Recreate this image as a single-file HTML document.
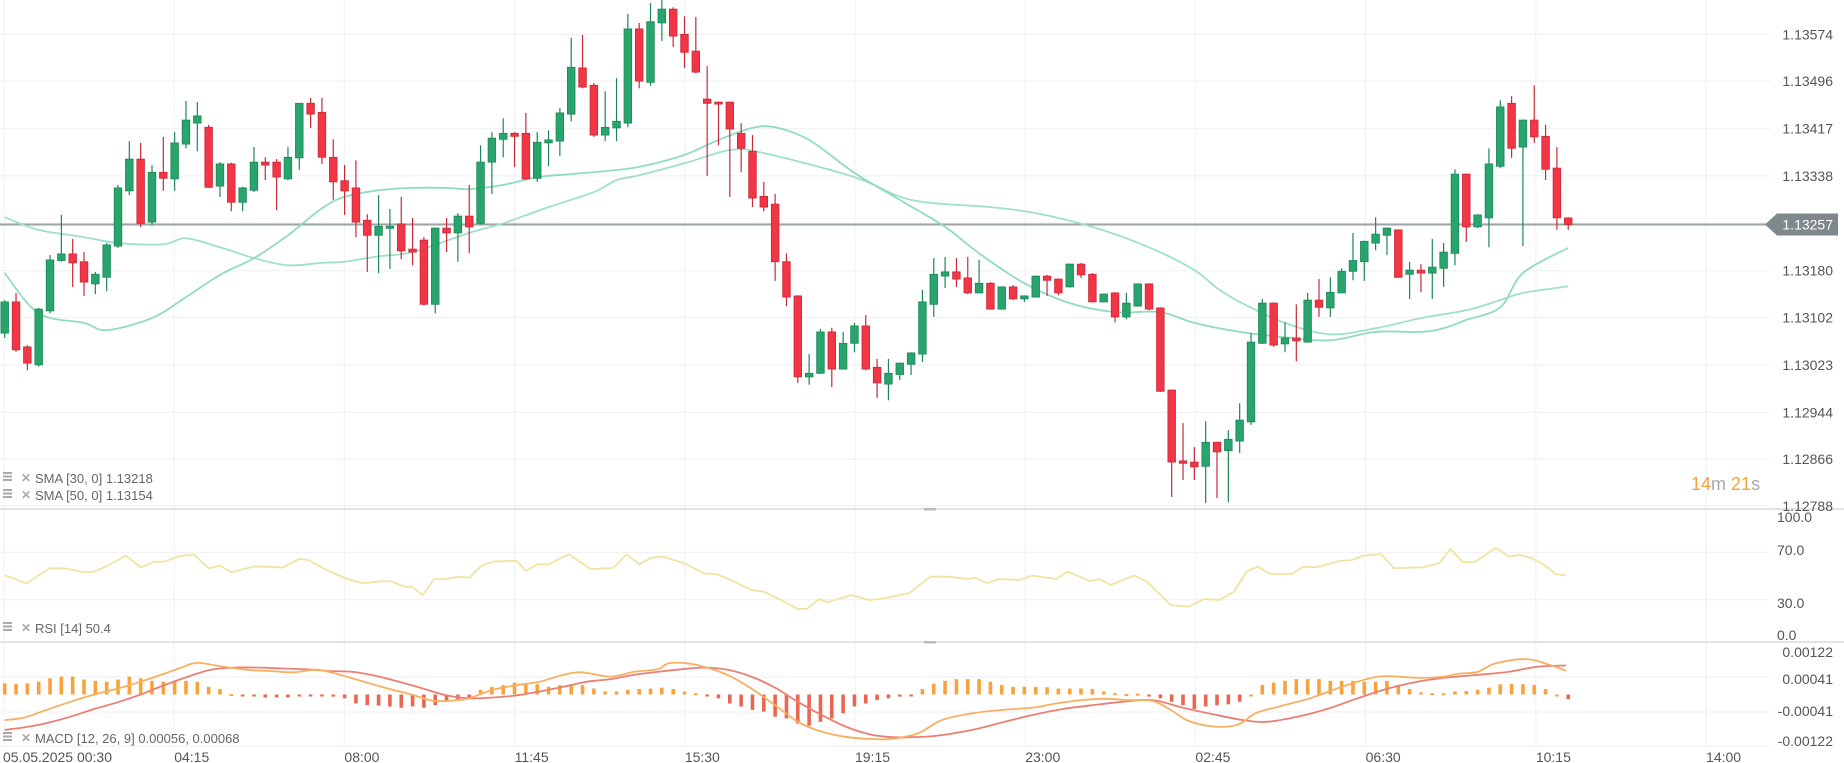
<!DOCTYPE html>
<html><head><meta charset="utf-8"><style>
html,body{margin:0;padding:0;background:#fff;}
svg{display:block;font-family:"Liberation Sans",sans-serif;}
</style></head><body>
<svg id="chart" width="1844" height="763" viewBox="0 0 1844 763" xmlns="http://www.w3.org/2000/svg"></svg>
<script>
const opens=[1.13076,1.13128,1.13053,1.13023,1.13113,1.13197,1.13208,1.13195,1.13158,1.13169,1.13221,1.13313,1.13366,1.13261,1.13344,1.13333,1.13391,1.13426,1.13419,1.13321,1.13358,1.13294,1.13314,1.13361,1.13361,1.13333,1.13368,1.13459,1.13444,1.13369,1.13330,1.13318,1.13264,1.13239,1.13251,1.13258,1.13216,1.13231,1.13124,1.13251,1.13243,1.13271,1.13259,1.13361,1.13399,1.13409,1.13409,1.13334,1.13393,1.13396,1.13441,1.13518,1.13489,1.13406,1.13418,1.13426,1.13583,1.13494,1.13593,1.13616,1.13574,1.13546,1.13466,1.13461,1.13461,1.13409,1.13379,1.13304,1.13291,1.13195,1.13138,1.13003,1.13009,1.13078,1.13016,1.13059,1.13088,1.13019,1.12991,1.13007,1.13024,1.13041,1.13124,1.13171,1.13178,1.13168,1.13143,1.13159,1.13116,1.13153,1.13133,1.13136,1.13171,1.13166,1.13153,1.13191,1.13174,1.13128,1.13143,1.13103,1.13121,1.13158,1.13118,1.12981,1.12863,1.12861,1.12854,1.12894,1.12880,1.12896,1.12928,1.13059,1.13126,1.13058,1.13068,1.13061,1.13131,1.13118,1.13143,1.13179,1.13195,1.13226,1.13239,1.13248,1.13174,1.13181,1.13176,1.13184,1.13209,1.13341,1.13253,1.13268,1.13354,1.13459,1.13386,1.13431,1.13404,1.13351,1.13268];
const highs=[1.13131,1.13143,1.13056,1.13118,1.13206,1.13273,1.13233,1.13211,1.13178,1.13226,1.13323,1.13396,1.13393,1.13356,1.13403,1.13411,1.13463,1.13461,1.13423,1.13361,1.13360,1.13320,1.13386,1.13369,1.13366,1.13386,1.13459,1.13468,1.13468,1.13399,1.13356,1.13364,1.13274,1.13306,1.13283,1.13303,1.13268,1.13236,1.13252,1.13268,1.13276,1.13323,1.13389,1.13411,1.13434,1.13411,1.13443,1.13411,1.13414,1.13451,1.13568,1.13573,1.13493,1.13479,1.13501,1.13608,1.13593,1.13626,1.13631,1.13619,1.13604,1.13603,1.13521,1.13462,1.13462,1.13426,1.13406,1.13328,1.13308,1.13209,1.13139,1.13041,1.13083,1.13085,1.13078,1.13093,1.13106,1.13033,1.13033,1.13027,1.13044,1.13148,1.13201,1.13203,1.13201,1.13203,1.13198,1.13161,1.13154,1.13156,1.13139,1.13172,1.13173,1.13167,1.13192,1.13193,1.13176,1.13142,1.13144,1.13143,1.13159,1.13159,1.13119,1.12982,1.12926,1.12886,1.12929,1.12895,1.12914,1.12959,1.13076,1.13133,1.13127,1.13094,1.13124,1.13143,1.13166,1.13169,1.13184,1.13243,1.13230,1.13269,1.13252,1.13249,1.13195,1.13191,1.13233,1.13226,1.13349,1.13342,1.13274,1.13384,1.13464,1.13471,1.13432,1.13489,1.13423,1.13386,1.13269];
const lows=[1.13068,1.13045,1.13014,1.13020,1.13109,1.13195,1.13153,1.13138,1.13141,1.13146,1.13218,1.13306,1.13253,1.13256,1.13313,1.13313,1.13384,1.13379,1.13318,1.13303,1.13279,1.13279,1.13311,1.13331,1.13281,1.13331,1.13348,1.13418,1.13358,1.13298,1.13273,1.13236,1.13178,1.13176,1.13183,1.13199,1.13189,1.13122,1.13109,1.13211,1.13195,1.13209,1.13257,1.13308,1.13369,1.13353,1.13331,1.13328,1.13354,1.13371,1.13429,1.13484,1.13403,1.13396,1.13396,1.13419,1.13484,1.13488,1.13563,1.13553,1.13518,1.13509,1.13338,1.13389,1.13303,1.13344,1.13286,1.13279,1.13163,1.13121,1.12993,1.12990,1.13008,1.12986,1.13015,1.13044,1.13014,1.12968,1.12964,1.12998,1.13006,1.13028,1.13103,1.13151,1.13153,1.13141,1.13142,1.13115,1.13115,1.13131,1.13128,1.13135,1.13138,1.13139,1.13152,1.13168,1.13127,1.13127,1.13094,1.13099,1.13120,1.13114,1.12978,1.12803,1.12831,1.12831,1.12793,1.12801,1.12794,1.12876,1.12923,1.13058,1.13053,1.13044,1.13029,1.13060,1.13103,1.13103,1.13142,1.13164,1.13163,1.13214,1.13206,1.13168,1.13133,1.13144,1.13133,1.13153,1.13189,1.13228,1.13251,1.13219,1.13351,1.13368,1.13221,1.13393,1.13331,1.13248,1.13248];
const closes=[1.13128,1.13048,1.13026,1.13116,1.13198,1.13208,1.13193,1.13161,1.13174,1.13223,1.13318,1.13366,1.13259,1.13344,1.13334,1.13393,1.13431,1.13438,1.13319,1.13358,1.13294,1.13318,1.13361,1.13356,1.13336,1.13369,1.13459,1.13441,1.13369,1.13328,1.13313,1.13261,1.13239,1.13254,1.13254,1.13213,1.13211,1.13124,1.13251,1.13243,1.13271,1.13253,1.13361,1.13401,1.13409,1.13404,1.13333,1.13394,1.13398,1.13443,1.13519,1.13486,1.13406,1.13419,1.13429,1.13583,1.13496,1.13595,1.13616,1.13571,1.13544,1.13511,1.13459,1.13458,1.13416,1.13384,1.13301,1.13286,1.13195,1.13136,1.13003,1.13009,1.13078,1.13016,1.13059,1.13088,1.13016,1.12993,1.13009,1.13026,1.13043,1.13128,1.13174,1.13178,1.13166,1.13143,1.13159,1.13116,1.13153,1.13133,1.13138,1.13171,1.13164,1.13143,1.13191,1.13173,1.13128,1.13141,1.13103,1.13126,1.13158,1.13116,1.12979,1.12861,1.12859,1.12853,1.12894,1.12878,1.12899,1.12931,1.13061,1.13126,1.13056,1.13068,1.13063,1.13131,1.13119,1.13144,1.13179,1.13197,1.13229,1.13241,1.13251,1.13169,1.13181,1.13176,1.13186,1.13211,1.13341,1.13253,1.13273,1.13358,1.13453,1.13384,1.13431,1.13403,1.13349,1.13268,1.13257];
const sma30Idx=[0,3,7,9,13,16,19,22,25,28,30,33,36,39,41,44,47,50,53,56,60,63,66,68,71,75,79,83,86,90,94,98,102,105,109,113,117,121,125,127,129,132,134,138];
const sma30Val=[1.13176,1.13109,1.13093,1.13081,1.13101,1.13136,1.13173,1.13201,1.13239,1.13284,1.13303,1.13314,1.13318,1.13318,1.13316,1.13323,1.13336,1.13341,1.13346,1.13353,1.13373,1.13398,1.13418,1.13419,1.13398,1.13343,1.13298,1.13253,1.13209,1.13159,1.13126,1.13111,1.13111,1.13093,1.13078,1.13069,1.13064,1.13078,1.13078,1.13084,1.13098,1.13119,1.13176,1.13218];
const sma50Idx=[0,3,7,10,14,16,19,22,25,28,30,33,36,41,44,48,52,54,56,60,64,67,75,80,87,91,96,101,105,107,109,113,117,121,125,129,132,134,138];
const sma50Val=[1.13269,1.13248,1.13236,1.13226,1.13224,1.13234,1.13219,1.13201,1.13189,1.13193,1.13195,1.13204,1.13211,1.13243,1.13259,1.13286,1.13311,1.13331,1.13339,1.13359,1.13381,1.13376,1.13336,1.13298,1.13286,1.13276,1.13253,1.13219,1.13181,1.13151,1.13128,1.13093,1.13074,1.13084,1.13101,1.13114,1.13131,1.13143,1.13154];
const rsiIdx=[0,1.9,4,5.3,6.9,7.9,9.2,10.7,12,13.2,14.1,15.4,16.7,18,19,20,21.9,23.2,24.5,26,26.8,28.1,30.2,31.7,33.3,34,35.3,35.9,36.9,37.9,39,40,41,42.1,43.1,44.7,45.2,46,47,48,49.8,51.7,53.7,54.9,56,57.1,58.1,60.2,61.7,62.8,64.1,65.9,67,68.5,70,70.8,71.9,72.6,74.7,76.3,77.3,79,79.8,81.7,83.3,84.9,85.7,86.7,87.8,89.6,90.7,92.8,93.8,95.8,96.6,97.6,99.7,100.8,102.9,104.5,105.9,107.2,108.5,109.6,110.6,111.7,113.6,114.6,115.7,117.8,118.9,119.9,121.5,122.6,124.2,125.2,126.6,127.6,128.7,129.8,131.6,132.7,133.7,134.8,135.9,136.9,137.8];
const rsiVal=[50.8,43.8,56.5,56.5,53.1,53.7,59.3,67.2,57.3,62.1,62.1,66.9,68.4,56.5,58.8,53.1,57.9,57.9,57.1,64.4,63.6,56.5,47.5,43.8,45.7,45.7,40.9,40.9,33.9,47.5,47.5,49.4,48.6,58.8,62.1,63,62.7,54.2,59.9,59.9,68.4,55.9,56.8,68.4,59.9,65.5,66.4,59.9,52.2,51.7,46.6,38.1,36.7,29.7,22.1,22.1,30.5,27.7,33.9,29.7,30.5,33.9,35.3,49.4,49.4,47.5,48.6,43.8,47.5,46.6,50.3,47.5,53.7,45.7,47.5,42.4,50.3,45.2,25.4,24,30.5,29.7,36.7,53.7,57.9,51.7,51.7,57.9,57.3,62.7,63.6,67.2,68.6,56.5,57.1,57.3,60.7,72.9,61.6,62.1,74,66.4,67.8,65,59.3,51.4,50.4];
const macdIdx=[0,1.7,3.7,5.8,7.9,10,12,14.1,15.6,17,19.3,21.3,23.4,25.5,27.6,29.6,31.7,33.8,35.9,37.9,40,41,43.1,45.2,47.2,49.3,50.9,53.5,55.5,57.6,58.6,60.2,61.7,63.8,65.9,68,70,72.1,74.2,76.3,78.3,80.6,82.7,85.4,88.1,90.7,92.8,95,97.1,99.2,101.3,102.9,104.5,106.7,108.8,110.4,112.5,115.2,117.8,120.5,122.1,124.7,126.8,128.4,130,131.6,134.3,136.4,137.8];
const macdVal=[-0.00060,-0.00054,-0.00036,-0.00017,0.00000,0.00014,0.00030,0.00049,0.00063,0.00074,0.00065,0.00058,0.00055,0.00052,0.00058,0.00046,0.00030,0.00014,0.00000,-0.00015,-0.00013,-0.00009,0.00011,0.00022,0.00030,0.00046,0.00052,0.00042,0.00053,0.00059,0.00073,0.00073,0.00065,0.00046,0.00014,-0.00025,-0.00064,-0.00087,-0.00099,-0.00104,-0.00104,-0.00091,-0.00060,-0.00044,-0.00036,-0.00031,-0.00021,-0.00013,-0.00010,-0.00013,-0.00015,-0.00036,-0.00062,-0.00075,-0.00071,-0.00044,-0.00028,-0.00009,0.00016,0.00038,0.00043,0.00039,0.00041,0.00049,0.00053,0.00073,0.00083,0.00069,0.00056];
const signalIdx=[0,1.7,3.7,5.8,7.9,10,12,14.1,16.2,18.2,20.3,22.4,24.5,26.5,28.6,30.7,32.7,34.8,36.9,39,41,43.1,45.2,47.2,49.3,51.4,53.5,55.5,57.6,59.7,61.7,63.8,65.9,68,70,72.1,74.2,76.3,78.3,80,82.2,85.4,88.1,90.7,93.4,96,98.7,101.3,104,106.6,109.3,111.4,114.1,116.7,119.4,122.1,124.7,127.4,130,132.7,135.3,137.8];
const signalVal=[-0.00083,-0.00077,-0.00067,-0.00052,-0.00034,-0.00018,0.00000,0.00022,0.00042,0.00058,0.00063,0.00063,0.00061,0.00059,0.00055,0.00053,0.00044,0.00030,0.00014,-0.00002,-0.00009,-0.00007,-0.00002,0.00007,0.00018,0.00030,0.00036,0.00046,0.00053,0.00059,0.00063,0.00058,0.00042,0.00016,-0.00017,-0.00048,-0.00075,-0.00093,-0.00100,-0.00100,-0.00097,-0.00083,-0.00065,-0.00048,-0.00034,-0.00025,-0.00017,-0.00013,-0.00031,-0.00046,-0.00060,-0.00064,-0.00052,-0.00034,-0.00009,0.00014,0.00030,0.00040,0.00046,0.00053,0.00065,0.00068];
const histVal=[0.00026,0.00025,0.00026,0.00030,0.00038,0.00042,0.00042,0.00035,0.00032,0.00030,0.00035,0.00042,0.00038,0.00032,0.00030,0.00032,0.00032,0.00030,0.00018,0.00013,0.00001,-0.00004,-0.00004,-0.00007,-0.00007,-0.00007,-0.00003,-0.00001,-0.00001,-0.00005,-0.00009,-0.00021,-0.00025,-0.00026,-0.00028,-0.00031,-0.00028,-0.00031,-0.00025,-0.00017,-0.00011,-0.00007,0.00011,0.00018,0.00022,0.00028,0.00026,0.00024,0.00018,0.00022,0.00024,0.00022,0.00014,0.00007,0.00007,0.00011,0.00013,0.00014,0.00016,0.00013,0.00007,0.00003,-0.00004,-0.00009,-0.00021,-0.00028,-0.00036,-0.00040,-0.00052,-0.00056,-0.00068,-0.00073,-0.00064,-0.00056,-0.00044,-0.00028,-0.00021,-0.00013,-0.00009,-0.00005,-0.00001,0.00013,0.00025,0.00032,0.00036,0.00036,0.00036,0.00030,0.00022,0.00018,0.00018,0.00018,0.00017,0.00014,0.00014,0.00014,0.00013,0.00007,0.00003,0.00001,0.00002,-0.00001,-0.00009,-0.00017,-0.00025,-0.00034,-0.00028,-0.00025,-0.00023,-0.00017,0.00000,0.00022,0.00028,0.00032,0.00036,0.00036,0.00036,0.00032,0.00032,0.00032,0.00030,0.00030,0.00032,0.00022,0.00013,0.00005,0.00003,0.00003,0.00007,0.00008,0.00011,0.00016,0.00024,0.00025,0.00024,0.00022,0.00013,0.00000,-0.00011];
const priceTicks=[1.13574,1.13496,1.13417,1.13338,1.13259,1.13180,1.13102,1.13023,1.12944,1.12866,1.12788];
const priceTickLabels=["1.13574","1.13496","1.13417","1.13338","","1.13180","1.13102","1.13023","1.12944","1.12866","1.12788"];
const rsiTicks=[100,70,30,0];
const rsiTickLabels=["100.0","70.0","30.0","0.0"];
const macdTicks=[0.00122,0.00041,-0.00041,-0.00122];
const macdTickLabels=["0.00122","0.00041","-0.00041","-0.00122"];
const timeTickIdx=[0,15,30,45,60,75,90,105,120,135,150];
const timeTickLabels=["05.05.2025  00:30","04:15","08:00","11:45","15:30","19:15","23:00","02:45","06:30","10:15","14:00"];
const currentPrice=1.13257;

const NS="http://www.w3.org/2000/svg";
const svg=document.getElementById('chart');
function el(tag,attrs,parent){const e=document.createElementNS(NS,tag);for(const k in attrs)e.setAttribute(k,attrs[k]);(parent||svg).appendChild(e);return e;}
const xOf=i=>4.7+i*11.33;
const xGrid=i=>4+i*11.347;
const yP=p=>34.3+(1.13574-p)*60000;
const yR=v=>635-v*1.18;
const yM=v=>694.5-v*42700;
const PLOT_R=1770;

function pathFrom(idx,val,yf){
  const pts=idx.map((t,k)=>[xOf(t),yf(val[k])]);
  let d='M'+pts[0][0].toFixed(1)+','+pts[0][1].toFixed(1);
  for(let k=0;k<pts.length-1;k++){
    const p0=pts[Math.max(k-1,0)],p1=pts[k],p2=pts[k+1],p3=pts[Math.min(k+2,pts.length-1)];
    const c1x=p1[0]+(p2[0]-p0[0])/6,c1y=p1[1]+(p2[1]-p0[1])/6;
    const c2x=p2[0]-(p3[0]-p1[0])/6,c2y=p2[1]-(p3[1]-p1[1])/6;
    d+=' C'+c1x.toFixed(1)+','+c1y.toFixed(1)+' '+c2x.toFixed(1)+','+c2y.toFixed(1)+' '+p2[0].toFixed(1)+','+p2[1].toFixed(1);
  }
  return d;
}
function linePath(idx,val,yf){return idx.map((t,k)=>(k?'L':'M')+xOf(t).toFixed(1)+','+yf(val[k]).toFixed(1)).join(' ');}

const grid=el('g',{});


timeTickIdx.forEach(t=>{const x=xGrid(t);el('line',{x1:x,x2:x,y1:0,y2:746,stroke:'#f1f2f3','stroke-width':1.2},grid);});
priceTicks.forEach(p=>{el('line',{x1:0,x2:PLOT_R,y1:yP(p),y2:yP(p),stroke:'#f1f2f3','stroke-width':1.2},grid);});
[70,30].forEach(v=>el('line',{x1:0,x2:PLOT_R,y1:yR(v),y2:yR(v),stroke:'#f1f2f3','stroke-width':1.2},grid));
[0.00041,-0.00041].forEach(v=>el('line',{x1:0,x2:PLOT_R,y1:yM(v),y2:yM(v),stroke:'#f1f2f3','stroke-width':1.2},grid));
const s1=el('line',{x1:0,x2:1844,y1:509,y2:509,stroke:'#dcdcdc','stroke-width':1.5});


const s2=el('line',{x1:0,x2:1844,y1:642,y2:642,stroke:'#dcdcdc','stroke-width':1.5});


el('rect',{x:924,y:508,width:12,height:2.5,fill:'#bbb'});
el('rect',{x:924,y:641,width:12,height:2.5,fill:'#bbb'});
el('line',{x1:0,x2:PLOT_R,y1:746,y2:746,stroke:'#ececec','stroke-width':1});

const cpl=el('line',{x1:0,x2:1768,y1:yP(currentPrice),y2:yP(currentPrice),stroke:'#9ea3a6','stroke-width':2});



const sma50=el('path',{d:pathFrom(sma50Idx,sma50Val,yP),fill:'none',stroke:'#9fe0c8','stroke-width':1.8,'stroke-linejoin':'round'});


const sma30=el('path',{d:pathFrom(sma30Idx,sma30Val,yP),fill:'none',stroke:'#8fdcc0','stroke-width':1.8,'stroke-linejoin':'round'});



const cg=el('g',{});


opens.forEach((o,i)=>{
  const c=closes[i],h=highs[i],l=lows[i];
  const up=c>=o;
  const fill=up?'#27a56d':'#f23645';
  const edge=up?'#1d8656':'#c62a3a';
  const x=xOf(i);
  const g=el('g',{},cg);
  
  
  el('line',{x1:x,x2:x,y1:yP(h),y2:yP(l),stroke:edge,'stroke-width':1.2},g);
  const top=yP(Math.max(o,c)),bot=yP(Math.min(o,c));
  el('rect',{x:x-3.8,y:top,width:7.6,height:Math.max(bot-top,2),fill:fill,stroke:edge,'stroke-width':0.8},g);
});

const rsi=el('path',{d:linePath(rsiIdx,rsiVal,yR),fill:'none',stroke:'#f2e3a0','stroke-width':1.8,'stroke-linejoin':'round'});



const hg=el('g',{});


histVal.forEach((v,i)=>{
  const x=xOf(i),y0=yM(0),y1=yM(v);
  const top=Math.min(y0,y1),hgt=Math.max(Math.abs(y1-y0),2);
  const b=el('rect',{x:x-1.8,y:v>=0?top:y0,width:3.6,height:hgt,fill:v>=0?'#f7a23c':'#ea6650'},hg);
  
  
});
const sig=el('path',{d:pathFrom(signalIdx,signalVal,yM),fill:'none',stroke:'#ea8074','stroke-width':1.8,'stroke-linejoin':'round'});


const mac=el('path',{d:pathFrom(macdIdx,macdVal,yM),fill:'none',stroke:'#f8b060','stroke-width':1.8,'stroke-linejoin':'round'});



const ax=el('g',{'font-size':14,fill:'#555','text-anchor':'end'});


priceTicks.forEach((p,k)=>{if(!priceTickLabels[k])return;const t=el('text',{x:1833,y:yP(p)+5},ax);t.textContent=priceTickLabels[k];});
const rg=el('g',{'font-size':14,fill:'#555','text-anchor':'start'});


const rsiLabelY=[517,550,603,635];
rsiTicks.forEach((v,k)=>{const t=el('text',{x:1777,y:rsiLabelY[k]+5},rg);t.textContent=rsiTickLabels[k];});
const mg=el('g',{'font-size':14,fill:'#555','text-anchor':'end'});


const macdLabelY=[652,679,711,741];
macdTicks.forEach((v,k)=>{const t=el('text',{x:1833,y:macdLabelY[k]+5},mg);t.textContent=macdTickLabels[k];});
const tg=el('g',{'font-size':14,fill:'#555'});


timeTickIdx.forEach((t,k)=>{const tx=el('text',{x:xGrid(t)+(k?0:-1),y:762,'xml:space':'preserve'},tg);tx.textContent=timeTickLabels[k];});

const pt=el('g',{});


const cy=yP(currentPrice);
el('path',{d:`M1765,${cy} L1777,${cy-11} L1838,${cy-11} L1838,${cy+11} L1777,${cy+11} Z`,fill:'#7e888d'},pt);
const ptt=el('text',{x:1833,y:cy+5,'font-size':14,fill:'#fff','text-anchor':'end'},pt);
ptt.textContent=currentPrice.toFixed(5);

const cd=el('text',{x:1691,y:490,'font-size':18},svg);


cd.innerHTML='<tspan fill="#f5a33a">14</tspan><tspan fill="#aaa">m </tspan><tspan fill="#f5a33a">21</tspan><tspan fill="#aaa">s</tspan>';

function legend(y,text,name){
  const g=el('g',{});
  
  
  el('rect',{x:3,y:y-6,width:9,height:2,fill:'#aaa'},g);
  el('rect',{x:3,y:y-2.5,width:9,height:2,fill:'#aaa'},g);
  el('rect',{x:3,y:y+1,width:9,height:2,fill:'#aaa'},g);
  const x=el('text',{x:21,y:y+4,'font-size':12,'font-weight':'bold',fill:'#aaa'},g);x.textContent='✕';
  const t=el('text',{x:35,y:y+5,'font-size':13,fill:'#666'},g);t.textContent=text;
}
legend(478,'SMA [30, 0] 1.13218','sma-30-legend');
legend(495,'SMA [50, 0] 1.13154','sma-50-legend');
legend(628,'RSI [14]  50.4','rsi-legend');
legend(738,'MACD [12, 26, 9] 0.00056,  0.00068','macd-legend');
</script>
</body></html>
